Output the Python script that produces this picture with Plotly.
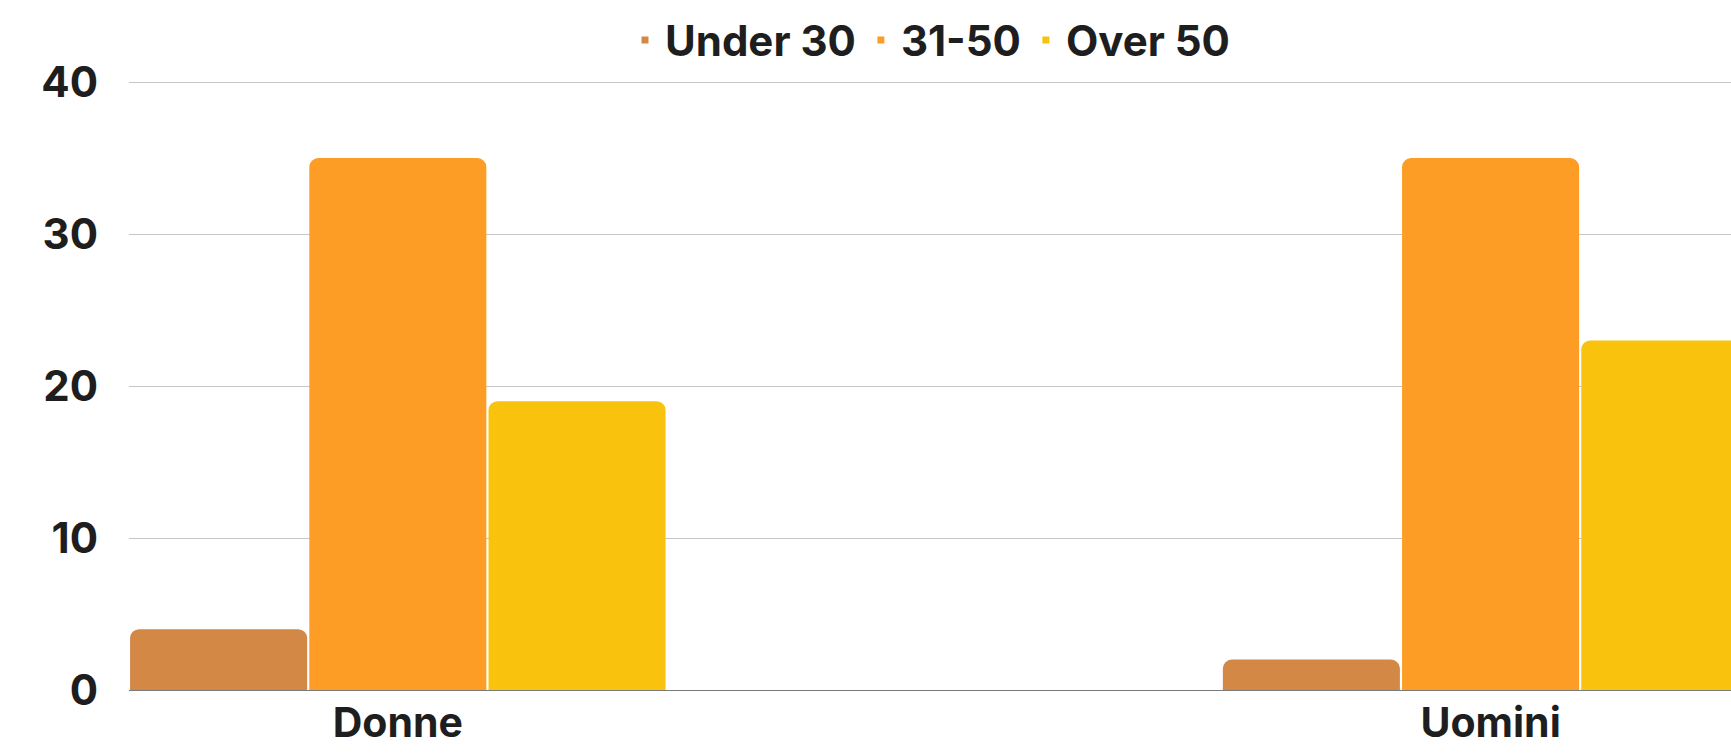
import plotly.graph_objects as go

# Respondents by gender and age band
categories = ["Donne", "Uomini"]
age_bands = ["Under 30", "31-50", "Over 50"]
under_30 = [4, 2]
from_31_to_50 = [35, 35]
over_50 = [19, 23]
y_ticks = [0, 10, 20, 30, 40]

colors = ["#D48846", "#FE9D26", "#F9C30D"]
series = [under_30, from_31_to_50, over_50]

FONT = "Inter, Lato, sans-serif"
TEXT = "#1E1E1E"
BARGAP = 0.508

fig = go.Figure()
for name, vals, col in zip(age_bands, series, colors):
    fig.add_trace(go.Bar(
        x=categories, y=vals, name=name,
        marker=dict(color=col, cornerradius=9, line=dict(width=0)),
        showlegend=False, legendgroup=name,
    ))
# small square legend keys
for name, col in zip(age_bands, colors):
    fig.add_trace(go.Scatter(
        x=[None], y=[None], mode="markers", name=name, legendgroup=name,
        marker=dict(symbol="square", size=7, color=col),
    ))

fig.update_layout(
    width=1731, height=754,
    margin=dict(l=129, r=0, t=77, b=64, autoexpand=False),
    paper_bgcolor="white", plot_bgcolor="white",
    barmode="group", bargap=BARGAP, bargroupgap=0.012,
    font=dict(family=FONT, size=42, color=TEXT, weight=700),
    legend=dict(
        orientation="h", x=0.5, xanchor="center", xref="paper",
        y=1.06, yanchor="middle", yref="paper",
        font=dict(family=FONT, size=42, color=TEXT, weight=700),
        itemwidth=30, tracegroupgap=0, bgcolor="rgba(0,0,0,0)",
    ),
    xaxis=dict(
        type="category",
        range=[-(1 - BARGAP) / 2, 1.22],
        showgrid=False, showline=False, zeroline=False,
        ticks="", ticklabelstandoff=5, automargin=False,
        tickfont=dict(family=FONT, size=41, color=TEXT, weight=700),
    ),
    yaxis=dict(
        range=[0, 40.33], tickvals=y_ticks,
        showgrid=True, gridcolor="#C6C6C6", gridwidth=1,
        zeroline=True, zerolinecolor="#7A7A7A", zerolinewidth=1,
        showline=False, ticks="", ticklabelstandoff=30, automargin=False,
        tickfont=dict(family=FONT, size=42, color=TEXT, weight=700),
    ),
)

fig.write_html("out.html")
